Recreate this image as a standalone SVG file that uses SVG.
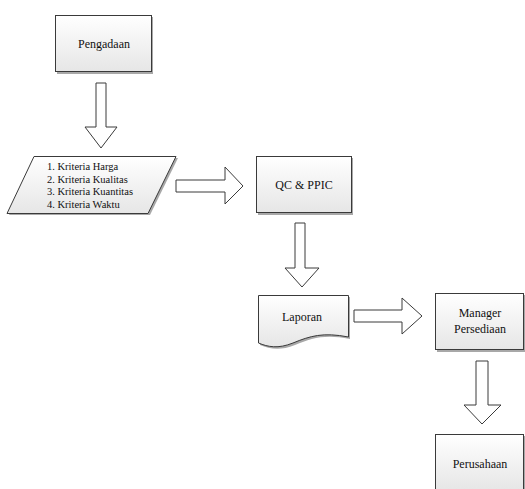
<svg xmlns="http://www.w3.org/2000/svg" width="525" height="489" viewBox="0 0 525 489">
<defs>
<linearGradient id="g" x1="0" y1="0" x2="0" y2="1">
<stop offset="0" stop-color="#ffffff"/>
<stop offset="1" stop-color="#e6e6e6"/>
</linearGradient>
<style>
.box{fill:url(#g);stroke:#3a3a3a;stroke-width:1}
.sh{fill:#a8a8a8}
.arr{fill:#ffffff;stroke:#3a3a3a;stroke-width:1}
.t{font-family:"Liberation Serif","Times New Roman",serif;font-size:12px;fill:#111;text-anchor:middle}
.l{font-family:"Liberation Serif","Times New Roman",serif;font-size:10.5px;fill:#111}
</style>
</defs>
<rect width="525" height="489" fill="#ffffff"/>
<g id="connectors">
<polygon class="arr" points="96,83 106,83 106,127 117,127 101,148 85,127 96,127"/>
<polygon class="arr" points="176,180 225,180 225,167 243,186 225,204 225,192 176,192"/>
<polygon class="arr" points="295,223 305,223 305,268 319,268 302,287 285,268 295,268"/>
<polygon class="arr" points="354,310 402,310 402,298 422,316 402,334 402,322 354,322"/>
<polygon class="arr" points="476,361 488,361 488,405 501,405 482,424 464,405 476,405"/>
</g>
<g id="pengadaan">
<rect class="sh" x="57" y="17" width="96" height="57"/>
<rect class="box" x="55.5" y="15.5" width="96" height="56"/>
<text class="t" x="104" y="48">Pengadaan</text>
</g>
<g id="kriteria">
<polygon class="sh" points="36,158 178,158 150,215 9,215"/>
<polygon class="box" points="34,156.5 176,156.5 148,213.5 7,213.5"/>
<text class="l" x="47" y="170">1. Kriteria Harga</text>
<text class="l" x="47" y="182.5">2. Kriteria Kualitas</text>
<text class="l" x="47" y="195">3. Kriteria Kuantitas</text>
<text class="l" x="47" y="207.5">4. Kriteria Waktu</text>
</g>
<g id="qcppic">
<rect class="sh" x="258" y="158" width="95" height="57"/>
<rect class="box" x="256.5" y="156.5" width="95" height="56"/>
<text class="t" x="304" y="189">QC &amp; PPIC</text>
</g>
<g id="laporan">
<path class="sh" d="M260,297 H350 V339 C325,334 312,338 295,345 C280,351 270,349 260,345 Z"/>
<path class="box" d="M258.5,295.5 H348.5 V337 C323,332 310,336 293,343 C278,349 268,347 258.5,343 Z"/>
<text class="t" x="302" y="321">Laporan</text>
</g>
<g id="manager">
<rect class="sh" x="437" y="295" width="88" height="57"/>
<rect class="box" x="435.5" y="293.5" width="88" height="56"/>
<text class="t" x="480" y="317">Manager</text>
<text class="t" x="480" y="333">Persediaan</text>
</g>
<g id="perusahaan">
<rect class="sh" x="437" y="436" width="88" height="57"/>
<rect class="box" x="435.5" y="434.5" width="88" height="56"/>
<text class="t" x="480" y="468">Perusahaan</text>
</g>
</svg>
